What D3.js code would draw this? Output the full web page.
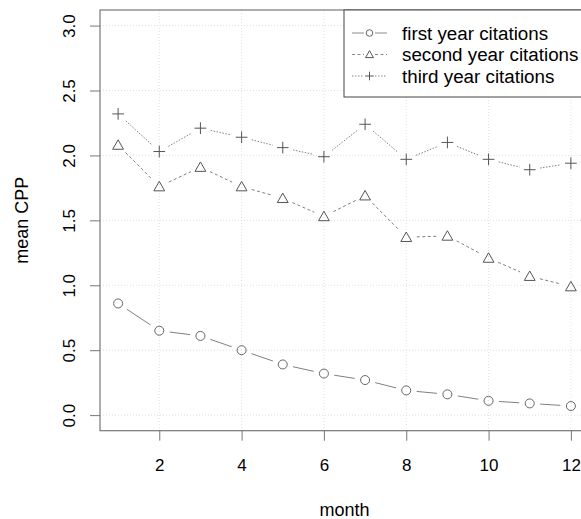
<!DOCTYPE html>
<html>
<head>
<meta charset="utf-8">
<script src="https://cdn.jsdelivr.net/npm/d3@7"></script>
<style>
  html, body { margin: 0; padding: 0; background: #fff; }
  svg text { font-family: "Liberation Sans", Arial, Helvetica, sans-serif; fill: #000; }
</style>
</head>
<body>
<div id="chart"></div>
<script>
// ── Data ──────────────────────────────────────────────────────
const months = [1, 2, 3, 4, 5, 6, 7, 8, 9, 10, 11, 12];
const firstYear  = [0.86, 0.65, 0.61, 0.50, 0.39, 0.32, 0.27, 0.19, 0.16, 0.11, 0.09, 0.07];
const secondYear = [2.08, 1.76, 1.91, 1.76, 1.67, 1.53, 1.69, 1.37, 1.38, 1.21, 1.07, 0.99];
const thirdYear  = [2.32, 2.03, 2.21, 2.14, 2.06, 1.99, 2.24, 1.97, 2.10, 1.97, 1.89, 1.94];
const xTicks = [2, 4, 6, 8, 10, 12];
const yTicks = [0, 0.5, 1, 1.5, 2, 2.5, 3];
const seriesNames = ['first year citations', 'second year citations', 'third year citations'];

const W = 581, H = 519;
const plot = { left: 100, right: 589, top: 10, bottom: 430.7 };
const TICK_FONT = 17;
const FONT = 18;
const LEGEND_FONT = 18.8;

const series = [
  { name: seriesNames[0], values: firstYear,  shape: 'circle',   dash: null },
  { name: seriesNames[1], values: secondYear, shape: 'triangle', dash: '3,2.5' },
  { name: seriesNames[2], values: thirdYear,  shape: 'plus',     dash: '1.5,1.5' },
];

const svg = d3.select('#chart').append('svg')
  .attr('width', W).attr('height', H);

// R pads the data range by 4% on each side
const x = d3.scaleLinear().domain([0.56, 12.44]).range([plot.left, plot.right]);
const y = d3.scaleLinear().domain([-0.12, 3.12]).range([plot.bottom, plot.top]);

// ── Grid ─────────────────────────────────────────────────────
const grid = svg.append('g');
grid.selectAll('line.gx').data(xTicks).join('line')
  .attr('x1', d => x(d)).attr('x2', d => x(d))
  .attr('y1', plot.top).attr('y2', plot.bottom)
  .attr('stroke', '#d8d8d8').attr('stroke-width', 0.8).attr('stroke-dasharray', '1,2');
grid.selectAll('line.gy').data(yTicks).join('line')
  .attr('x1', plot.left).attr('x2', plot.right)
  .attr('y1', d => y(d)).attr('y2', d => y(d))
  .attr('stroke', '#d8d8d8').attr('stroke-width', 0.8).attr('stroke-dasharray', '1,2');

// ── Axes ─────────────────────────────────────────────────────
const xAxis = svg.append('g')
  .attr('transform', `translate(0,${plot.bottom})`)
  .call(d3.axisBottom(x).tickValues(xTicks).tickSize(10).tickPadding(18).tickFormat(d3.format('d')));
xAxis.select('.domain').remove();
xAxis.selectAll('line').attr('stroke', '#777');
xAxis.selectAll('text').attr('font-size', TICK_FONT).style('font-family', null);

const yAxis = svg.append('g')
  .attr('transform', `translate(${plot.left},0)`)
  .call(d3.axisLeft(y).tickValues(yTicks).tickSize(10).tickFormat(d3.format('.1f')));
yAxis.select('.domain').remove();
yAxis.selectAll('line').attr('stroke', '#777');
yAxis.selectAll('text')
  .attr('font-size', TICK_FONT)
  .attr('text-anchor', 'middle')
  .attr('x', null).attr('dy', null)
  .attr('transform', 'translate(-31,0) rotate(-90)')
  .attr('dominant-baseline', 'central');

svg.append('rect')
  .attr('x', plot.left).attr('y', plot.top)
  .attr('width', plot.right - plot.left).attr('height', plot.bottom - plot.top)
  .attr('fill', 'none').attr('stroke', '#777').attr('stroke-width', 1.2);

svg.append('text')
  .attr('x', (plot.left + plot.right) / 2).attr('y', 510)
  .attr('text-anchor', 'middle').attr('dominant-baseline', 'central')
  .attr('font-size', FONT).text('month');

svg.append('text')
  .attr('transform', `translate(22,${(plot.top + plot.bottom) / 2}) rotate(-90)`)
  .attr('text-anchor', 'middle').attr('dominant-baseline', 'central')
  .attr('font-size', FONT).text('mean CPP');

// ── Marker helper ────────────────────────────────────────────
function marker(g, shape, cx, cy, s) {
  if (shape === 'circle') {
    g.append('circle').attr('cx', cx).attr('cy', cy).attr('r', s)
      .attr('fill', 'none').attr('stroke', '#666').attr('stroke-width', 1);
  } else if (shape === 'triangle') {
    const h = s * 2.1, w = s * 2.4;
    g.append('path')
      .attr('d', `M${cx},${cy - h * 0.55}L${cx + w / 2},${cy + h * 0.45}L${cx - w / 2},${cy + h * 0.45}Z`)
      .attr('fill', 'none').attr('stroke', '#555').attr('stroke-width', 1);
  } else {
    const r = s * 1.3;
    g.append('path')
      .attr('d', `M${cx - r},${cy}H${cx + r}M${cx},${cy - r}V${cy + r}`)
      .attr('fill', 'none').attr('stroke', '#555').attr('stroke-width', 1);
  }
}

// ── Series (R type="b": segments broken around points) ───────
const GAP = 10.5;
series.forEach(s => {
  const g = svg.append('g');
  const pts = months.map((m, i) => [x(m), y(s.values[i])]);
  d3.pairs(pts).forEach(([a, b]) => {
    const dx = b[0] - a[0], dy = b[1] - a[1];
    const len = Math.hypot(dx, dy);
    if (len <= 2 * GAP) return;
    const ux = dx / len, uy = dy / len;
    g.append('line')
      .attr('x1', a[0] + ux * GAP).attr('y1', a[1] + uy * GAP)
      .attr('x2', b[0] - ux * GAP).attr('y2', b[1] - uy * GAP)
      .attr('stroke', '#808080').attr('stroke-width', 1)
      .attr('stroke-dasharray', s.dash);
  });
  pts.forEach(p => marker(g, s.shape, p[0], p[1], 4.5));
});

// ── Legend ───────────────────────────────────────────────────
const legend = svg.append('g');
legend.append('rect')
  .attr('x', 344).attr('y', 10).attr('width', 260).attr('height', 87)
  .attr('fill', '#fff').attr('stroke', '#444').attr('stroke-width', 1);
series.forEach((s, i) => {
  const ly = 33 + i * 21.5;
  legend.append('line').attr('x1', 352).attr('x2', 364).attr('y1', ly).attr('y2', ly)
    .attr('stroke', '#888').attr('stroke-dasharray', s.dash);
  legend.append('line').attr('x1', 375).attr('x2', 387).attr('y1', ly).attr('y2', ly)
    .attr('stroke', '#888').attr('stroke-dasharray', s.dash);
  marker(legend, s.shape, 369.5, ly, 3.3);
  legend.append('text').attr('x', 402).attr('y', ly)
    .attr('dominant-baseline', 'central').attr('font-size', LEGEND_FONT).text(s.name);
});
</script>
</body>
</html>
